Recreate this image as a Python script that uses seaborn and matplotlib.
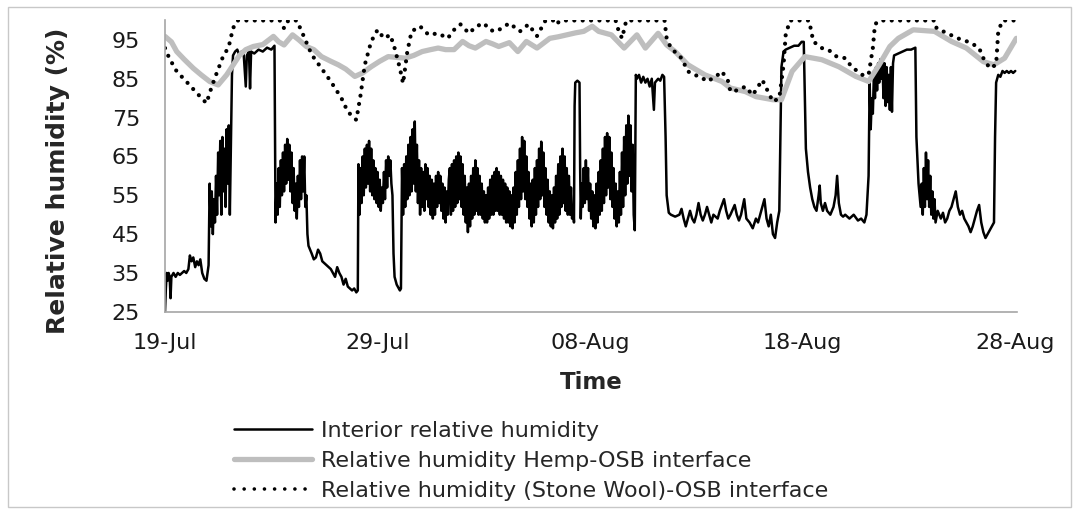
import matplotlib
matplotlib.use("Agg")
import matplotlib.pyplot as plt
import seaborn as sns
from matplotlib.patches import Rectangle
from matplotlib.lines import Line2D

# x values are days since 19-Jul
int_day = [
    0.0, 0.04, 0.08, 0.12, 0.17, 0.22, 0.26, 0.3, 0.4, 0.5, 0.6, 0.7, 0.8, 0.9, 1.0, 1.1, 1.17, 1.25, 1.33, 1.42,
    1.5, 1.58, 1.66, 1.75, 1.85, 1.95, 2.05,
    2.1, 2.15, 2.2, 2.25, 2.3, 2.35, 2.4, 2.45, 2.5, 2.55, 2.6, 2.65, 2.7, 2.75, 2.8, 2.85, 2.9, 2.95, 3.0, 3.05, 3.1,
    3.15, 3.2, 3.3, 3.4, 3.5, 3.6, 3.7, 3.8, 3.85, 3.95, 4.0, 4.05, 4.2, 4.4, 4.6, 4.8, 5.0, 5.15,
    5.2, 5.25, 5.3, 5.35, 5.4, 5.45, 5.5, 5.55, 5.6, 5.65, 5.7, 5.75, 5.8, 5.85, 5.9, 5.95, 6.0, 6.05, 6.1, 6.15,
    6.2, 6.25, 6.3, 6.35, 6.4, 6.45, 6.5, 6.55, 6.6, 6.65,
    6.7, 6.75, 6.9, 7.0, 7.1, 7.2, 7.3, 7.4, 7.5, 7.6, 7.8, 7.9, 8.0, 8.1, 8.2, 8.3, 8.4, 8.5, 8.6, 8.7, 8.8, 8.9,
    9.0, 9.07,
    9.1, 9.15, 9.2, 9.25, 9.3, 9.35, 9.4, 9.45, 9.5, 9.55, 9.6, 9.65, 9.7, 9.75, 9.8, 9.85, 9.9, 9.95, 10.0, 10.05,
    10.1, 10.15, 10.2, 10.25, 10.3, 10.35, 10.4, 10.45, 10.5, 10.55, 10.6, 10.65, 10.7,
    10.75, 10.8, 10.9, 11.0, 11.05, 11.1,
    11.15, 11.2, 11.25, 11.3, 11.35, 11.4, 11.45, 11.5, 11.55, 11.6, 11.65, 11.7, 11.75, 11.8, 11.85, 11.9, 11.95,
    12.0, 12.05, 12.1, 12.15, 12.2, 12.25, 12.3, 12.35, 12.4, 12.45, 12.5, 12.55, 12.6, 12.65, 12.7, 12.75, 12.8,
    12.85, 12.9, 12.95, 13.0, 13.05, 13.1, 13.15, 13.2, 13.25, 13.3, 13.35,
    13.4, 13.45, 13.5, 13.55, 13.6, 13.65, 13.7, 13.75, 13.8, 13.85,
    13.9, 13.95, 14.0, 14.05, 14.1, 14.15, 14.2, 14.25, 14.3, 14.35,
    14.4, 14.45, 14.5, 14.55, 14.6, 14.65, 14.7, 14.75, 14.8, 14.85,
    14.9, 14.95, 15.0, 15.05, 15.1, 15.15, 15.2, 15.25, 15.3, 15.35,
    15.4, 15.45, 15.5, 15.55, 15.6, 15.65, 15.7, 15.75, 15.8, 15.85,
    15.9, 15.95, 16.0, 16.05, 16.1, 16.15, 16.2, 16.25, 16.3, 16.35,
    16.4, 16.45, 16.5, 16.55, 16.6, 16.65, 16.7, 16.75, 16.8, 16.85,
    16.9, 16.95, 17.0, 17.05, 17.1, 17.15, 17.2, 17.25, 17.3, 17.35,
    17.4, 17.45, 17.5, 17.55, 17.6, 17.65, 17.7, 17.75, 17.8, 17.85,
    17.9, 17.95, 18.0, 18.05, 18.1, 18.15, 18.2, 18.25, 18.3, 18.35,
    18.4, 18.45, 18.5, 18.55, 18.6, 18.65, 18.7, 18.75, 18.8, 18.85,
    18.9, 18.95, 19.0, 19.05, 19.1, 19.15, 19.2,
    19.24, 19.27, 19.3, 19.4, 19.5, 19.53, 19.56,
    19.6, 19.65, 19.7, 19.75, 19.8, 19.85, 19.9, 19.95, 20.0, 20.05,
    20.1, 20.15, 20.2, 20.25, 20.3, 20.35, 20.4, 20.45, 20.5, 20.55,
    20.6, 20.65, 20.7, 20.75, 20.8, 20.85, 20.9, 20.95, 21.0, 21.05,
    21.1, 21.15, 21.2, 21.25, 21.3, 21.35, 21.4, 21.45, 21.5, 21.55,
    21.6, 21.65, 21.7, 21.75, 21.8, 21.85, 21.9, 21.95, 22.0, 22.05, 22.1,
    22.15, 22.2, 22.3, 22.4, 22.5, 22.6, 22.7, 22.8, 22.9, 23.0, 23.05, 23.2, 23.3, 23.4, 23.48,
    23.55, 23.6, 23.7, 23.8, 24.0, 24.2, 24.3, 24.4, 24.5, 24.6, 24.7, 24.8, 24.9, 25.0, 25.1, 25.2, 25.3, 25.4,
    25.5, 25.6, 25.7, 25.8, 26.0, 26.1, 26.3, 26.4, 26.5, 26.6, 26.8, 26.9, 27.0, 27.1, 27.25, 27.35, 27.5, 27.65,
    27.8, 27.9, 28.05, 28.2, 28.3, 28.4, 28.5, 28.6, 28.7, 28.8, 28.9,
    28.95, 29.0, 29.1, 29.2, 29.4, 29.6, 29.8, 29.95, 30.05,
    30.15, 30.25, 30.35, 30.45, 30.55, 30.65, 30.75, 30.8, 30.85, 30.95, 31.05, 31.15, 31.3, 31.45, 31.55, 31.62,
    31.7, 31.8, 31.9, 32.0, 32.2, 32.4, 32.6, 32.75, 32.9, 33.0, 33.1,
    33.15, 33.2, 33.25, 33.3, 33.35, 33.4, 33.45, 33.5, 33.55, 33.6, 33.65, 33.7, 33.75, 33.8, 33.85, 33.9, 33.95,
    34.0, 34.05, 34.1, 34.15,
    34.2, 34.25, 34.3, 34.5, 34.7, 34.9, 35.1, 35.3,
    35.35, 35.45, 35.55, 35.6, 35.65, 35.7, 35.75, 35.8, 35.85, 35.9, 35.95, 36.0, 36.05, 36.1, 36.15, 36.2, 36.25,
    36.35, 36.5, 36.6, 36.7, 36.8, 36.9, 37.0, 37.1, 37.2, 37.3, 37.4, 37.5, 37.6, 37.7, 37.8, 37.9, 38.0, 38.1,
    38.2, 38.3, 38.4, 38.5, 38.6, 38.7, 38.8, 38.9, 39.0,
    39.05, 39.1, 39.2, 39.3, 39.4, 39.5, 39.6, 39.7, 39.8, 39.9, 40.0,
]
int_rh = [
    25, 31, 35, 33, 35, 34, 28.5, 34, 35, 34, 35, 34.5, 35, 35.5, 35, 36, 39.5, 38, 39, 36.5,
    38, 37, 38.5, 35, 33.5, 33, 37,
    58, 47, 56, 45, 54, 48, 60, 50, 66, 55, 69, 50, 70, 56, 67, 52, 72, 58, 73, 50, 68,
    86, 91, 92, 92.5, 91, 92, 91.5, 83, 91, 92, 82.5, 92, 91.5, 92.5, 92, 93, 92.5, 93.5,
    48, 58, 50, 62, 52, 64, 55, 66, 56, 68, 58, 69.5, 59, 68, 56, 66, 53, 62, 51, 58,
    49, 60, 52, 64, 54, 65, 56, 65, 52, 55,
    45, 42, 40, 38.5, 39, 41, 40, 38, 37.5, 37, 36, 35, 34, 36.5, 35, 34, 32, 33.5, 31.5, 31, 30.5, 31,
    30, 30.5,
    63, 50, 62, 53, 65, 55, 67, 57, 68, 58, 69, 56, 67, 55, 64, 54, 62, 53, 61, 52,
    59, 51, 57, 53, 61, 54, 64, 57, 65, 60, 64, 58, 55,
    40, 34, 32, 31, 30.5, 31,
    62, 50, 63, 52, 65, 54, 68, 55, 70, 56, 72, 58, 74, 56, 68, 53, 64,
    50, 62, 52, 61, 51, 63, 54, 62, 52, 60, 50, 59, 49, 58, 50, 60, 52,
    61, 53, 60, 51, 58, 49, 57, 48, 56, 50, 59,
    62, 50, 63, 51, 64, 52, 65, 53, 66, 54,
    65, 52, 63, 50, 60, 48, 57, 45.5, 58, 47,
    60, 49, 62, 50, 64, 51, 62, 50, 60, 50,
    58, 49, 56, 48, 55, 48, 57, 49, 59, 50,
    60, 50, 61, 51, 62, 51, 61, 50, 60, 50,
    59, 49, 58, 48, 57, 48, 56, 47, 55, 46.5,
    57, 48, 61, 50, 64, 52, 67, 54, 70, 56,
    69, 54, 65, 52, 61, 49, 58, 47, 59, 48,
    62, 50, 64, 52, 67, 54, 68.8, 55, 66, 52,
    62, 50, 59, 48, 56, 47, 55, 46.5, 57, 48,
    60, 49, 63, 50, 65, 52, 67, 53, 65, 51,
    62, 50, 60, 50, 57, 49, 52,
    48, 78, 84, 84.5, 84, 62, 49,
    58, 52, 62, 53, 64, 54, 62, 51, 58, 49,
    56, 47, 55, 46.5, 58, 48, 61, 50, 64, 51,
    67, 53, 70, 55, 71, 57, 70, 54, 66, 52,
    62, 49, 58, 47, 56, 48, 61, 50, 66, 52,
    70, 55, 73, 58, 75.5, 60, 73, 56, 68, 50, 46,
    86, 85, 86, 84, 85.5, 84, 85, 83, 85, 77, 84, 85, 84.5, 86, 85.5,
    70, 55, 50.5, 50, 49.5, 50, 51.5, 49, 47, 49, 51, 49, 48, 50, 53, 50, 48.5, 50,
    52, 50, 48, 50, 49, 51, 54, 51, 49, 50, 52.5, 50, 48.5, 50, 54, 49, 48, 46.5,
    49, 48, 51, 54, 49, 47, 50, 45, 44, 48, 51,
    70, 88, 92, 92.5, 93, 93.5, 93.5, 94.5, 94.5,
    67, 61, 57, 54, 52, 51, 55, 57.5, 53, 51, 53, 51, 50, 52, 55, 60,
    53, 50, 49.5, 50, 49, 50, 48.5, 49, 48, 50, 60,
    84, 72, 80, 76, 86, 80, 88, 82, 89, 84, 90, 85, 90, 80, 89, 78, 88,
    79, 86, 77, 88,
    76.5, 89, 91, 91.5, 92, 92.5, 92.5, 93,
    70, 58, 52, 58, 50, 62, 52, 66, 54, 64, 52, 60, 50, 56, 49, 54, 48,
    51, 49, 50.5, 48, 49, 51, 52, 54, 56, 52, 50, 51, 49, 48, 47, 45.5, 47, 49,
    51, 52.5, 48, 45.5, 44, 45, 46, 47, 48,
    70, 84, 86, 85.5, 87, 86.5, 87, 86.5, 87, 86.5, 87,
]

hemp_day = [0.0, 0.3, 0.55, 0.9, 1.33, 1.7, 2.1, 2.5, 2.9, 3.2, 3.5, 3.8, 4.15, 4.6, 5.1, 5.35, 5.6, 6.0, 6.3,
            6.65, 7.0, 7.36, 7.8, 8.15, 8.5, 8.93, 9.3, 9.7, 10.1, 10.5, 10.9, 11.3, 11.7, 12.1, 12.5, 12.85,
            13.2, 13.6, 14.0, 14.3, 14.6, 15.1, 15.4, 15.7, 16.2, 16.6, 17.0, 17.5, 18.1, 18.5, 18.9, 19.3,
            19.7, 20.1, 20.4, 21.0, 21.6, 22.2, 22.6, 23.2, 23.6, 24.0, 24.6, 25.4, 26.2, 26.6, 27.3, 27.8,
            28.6, 29.0, 29.5, 30.1, 30.9, 31.7, 32.5, 33.1, 33.6, 34.1, 34.5, 35.2, 36.2, 37.0, 37.7, 38.5,
            39.0, 39.5, 40.05]
hemp_rh = [95.9, 94.5, 92, 90, 87.7, 86, 84.3, 83.4, 86, 88.5, 91, 92.5, 93.3, 93.8, 95.9, 94.5, 93.7, 96.3, 95,
           93.3, 92.5, 90.7, 89.5, 88.6, 87.5, 85.6, 86.5, 88.1, 89.5, 90.7, 90.5, 90.3, 91, 92, 92.5, 92.9,
           92.5, 92.5, 94.6, 93.5, 92.9, 94.6, 94, 93.3, 94.3, 92, 94.6, 92.9, 95.4, 95.8, 96.3, 96.8,
           97.2, 98.5, 97.2, 96.3, 92.9, 96.3, 92.9, 96.7, 93.7, 92, 88.6, 86, 84.3, 82.6, 81.7, 80.4,
           79.6, 79.6, 86.9, 90.7, 89.9, 88.1, 85.6, 84.3, 88.6, 93.3, 95.4, 97.6, 97.2, 94.6, 92.9, 89.4,
           88.6, 90.3, 95.4]

wool_day = [0.0, 0.2, 0.55, 1.0, 1.5, 1.95, 2.2, 2.4, 2.7, 3.0, 3.2, 3.4, 5.4, 5.6, 5.8, 6.2, 6.5, 6.9, 7.36,
            7.8, 8.3, 8.6, 9.0, 9.2, 9.4, 9.7, 10.0, 10.3, 10.6, 10.8, 11.05, 11.2, 11.4, 11.6, 12.0, 12.4,
            12.85, 13.3, 13.6, 13.9, 14.3, 14.65, 15.0, 15.3, 15.6, 16.2, 16.7, 17.1, 17.5, 17.9, 18.3, 18.4,
            18.6, 21.2, 21.3, 21.5, 21.7, 23.5, 23.6, 23.8, 24.3, 24.6, 24.9, 25.2, 25.5, 25.9, 26.2, 26.5,
            26.6, 27.0, 27.3, 27.65, 28.1, 28.6, 28.9, 29.1, 29.2, 29.4, 30.3, 30.5, 30.9, 31.2, 31.6, 32.0,
            32.3, 32.8, 33.1, 33.3, 33.4, 33.6, 36.2, 36.3, 36.8, 37.3, 37.9, 38.3, 38.5, 38.8, 39.1, 39.2,
            39.4, 40.05]
wool_rh = [92.9, 90.3, 86.9, 84.3, 81.3, 78.7, 83, 86, 90.3, 93.3, 98, 100, 100, 98, 100, 100, 96.3, 91.2, 87.7,
           84.3, 80, 76.5, 74.4, 80.8, 88.6, 94.6, 97.6, 95.4, 96.3, 92.9, 87.7, 83.8, 92, 97.2, 98.5, 96.3,
           96.7, 95.4, 97.6, 99, 96.7, 98.5, 99.3, 97.5, 97.2, 99.3, 97.2, 99, 96, 100, 100, 99,
           100, 100, 98, 95.4, 100, 100, 95.4, 92.9, 90.3, 86.9, 86, 85.5, 84.3, 85.5, 86.9, 84.3,
           81.7, 82.1, 83, 80.8, 84.7, 79.1, 80, 88.6, 96.3, 100, 100, 94.6, 92.9, 92.5, 90.7, 90.3,
           88.1, 86, 86, 92.9, 99, 100, 100, 98, 96.7, 95.4, 94.3, 92.9, 90.3, 87.7, 88.6, 97.2,
           100, 100]

tick_days = [0, 10, 20, 30, 40]
tick_labels = ["19-Jul", "29-Jul", "08-Aug", "18-Aug", "28-Aug"]
y_ticks = [25, 35, 45, 55, 65, 75, 85, 95]
series_labels = ["Interior relative humidity",
                 "Relative humidity Hemp-OSB interface",
                 "Relative humidity (Stone Wool)-OSB interface"]

assert len(int_day) == len(int_rh)
assert len(hemp_day) == len(hemp_rh)
assert len(wool_day) == len(wool_rh)

sns.set_style("white")
plt.rcParams["font.family"] = ["DejaVu Sans"]

fig = plt.figure(figsize=(10.75, 5.12), dpi=100)
ax = fig.add_axes([0.1535, 0.391, 0.7925, 0.569])

grey = "#BEBEBE"
dots = (0, (0.01, 2.0))

sns.lineplot(x=int_day, y=int_rh, ax=ax, color="black", lw=1.8, estimator=None, sort=False)
sns.lineplot(x=hemp_day, y=hemp_rh, ax=ax, color=grey, lw=3.8, estimator=None, sort=False)
sns.lineplot(x=wool_day, y=wool_rh, ax=ax, color="black", lw=3.0, estimator=None, sort=False)
ax.lines[-1].set_linestyle(dots)
ax.lines[-1].set_dash_capstyle("round")

ax.set_xlim(0, 40.08)
ax.set_ylim(25, 100)
ax.set_xticks(tick_days)
ax.set_xticklabels(tick_labels)
ax.set_yticks(y_ticks)

for side in ["top", "right"]:
    ax.spines[side].set_visible(False)
for side in ["left", "bottom"]:
    ax.spines[side].set_color("#A6A6A6")
    ax.spines[side].set_linewidth(1.2)

ax.tick_params(axis="x", direction="out", length=5, width=1.2, color="#A6A6A6",
               labelsize=16, labelcolor="#1A1A1A", pad=10)
ax.tick_params(axis="y", direction="out", length=4, width=1.2, color="#A6A6A6",
               labelsize=16, labelcolor="#1A1A1A", pad=14)

ax.set_xlabel("Time", fontsize=16.5, fontweight="bold", labelpad=13)
ax.set_ylabel("Relative humidity (%)", fontsize=18, fontweight="bold")
ax.yaxis.set_label_coords(-0.112, 0.449)

handles = [
    Line2D([], [], color="black", lw=1.8),
    Line2D([], [], color=grey, lw=3.8),
    Line2D([], [], color="black", lw=2.6, linestyle=(0, (0.01, 2.8)), dash_capstyle="round"),
]
fig.legend(handles, series_labels, loc="upper left", bbox_to_anchor=(234 / 1075, 1 - 421 / 512),
           frameon=False, fontsize=16, handlelength=3.5, handletextpad=0.4,
           labelspacing=0.45, borderpad=0, borderaxespad=0)

fig.patches.append(Rectangle((0.0075, 0.009), 0.989, 0.977, transform=fig.transFigure,
                             fill=False, edgecolor="#C8C8C8", lw=1))

fig.savefig("out.png", dpi=100)
